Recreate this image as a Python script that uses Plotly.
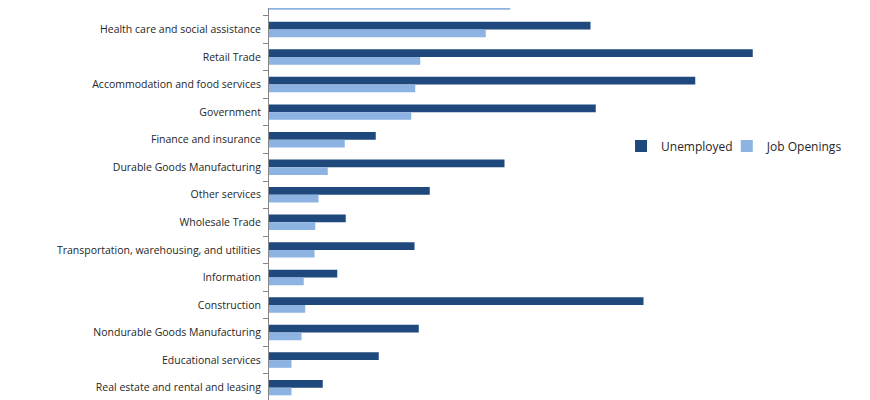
import plotly.graph_objects as go

industries = [
    "Professional and business services",
    "Health care and social assistance",
    "Retail Trade",
    "Accommodation and food services",
    "Government",
    "Finance and insurance",
    "Durable Goods Manufacturing",
    "Other services",
    "Wholesale Trade",
    "Transportation, warehousing, and utilities",
    "Information",
    "Construction",
    "Nondurable Goods Manufacturing",
    "Educational services",
    "Real estate and rental and leasing",
]
unemployed = [1919, 1286, 1935, 1705, 1307, 427, 942, 643, 307, 582, 273, 1498, 599, 439, 215]
job_openings = [965, 867, 605, 585, 569, 303, 235, 198, 185, 182, 139, 145, 130, 90, 90]

fig = go.Figure()
fig.add_trace(go.Bar(
    y=industries, x=unemployed, orientation="h",
    name="Unemployed", marker=dict(color="#1F497D", line_width=0),
    legend="legend",
))
fig.add_trace(go.Bar(
    y=industries, x=job_openings, orientation="h",
    name="Job Openings", marker=dict(color="#8DB3E2", line_width=0),
    legend="legend2",
))

# page has an 8px body margin, so positions are shifted up/left by 8px
legend_style = dict(
    orientation="h", yanchor="middle", xanchor="left",
    font=dict(size=12, color="#262626"), itemwidth=30,
    bgcolor="rgba(0,0,0,0)",
)

fig.update_layout(
    width=870, height=400,
    margin=dict(l=261, r=9, t=0, b=0),
    plot_bgcolor="white", paper_bgcolor="white",
    barmode="group", bargap=0.44, bargroupgap=0,
    font=dict(family="Open Sans", size=10.5, color="#262626"),
    showlegend=True,
    legend=dict(legend_style, x=0.5867, y=0.655),
    legend2=dict(legend_style, x=0.763, y=0.655),
    xaxis=dict(range=[0, 2400], visible=False, automargin=False),
    yaxis=dict(
        type="category", categoryarray=industries,
        range=[14.739, 0.2205], automargin=False,
        showline=True, linecolor="#868686", linewidth=1,
        ticks="outside", tickson="boundaries", ticklen=5, tickcolor="#868686",
        ticklabelstandoff=5, showgrid=False,
    ),
)

fig.write_html("out.html")
